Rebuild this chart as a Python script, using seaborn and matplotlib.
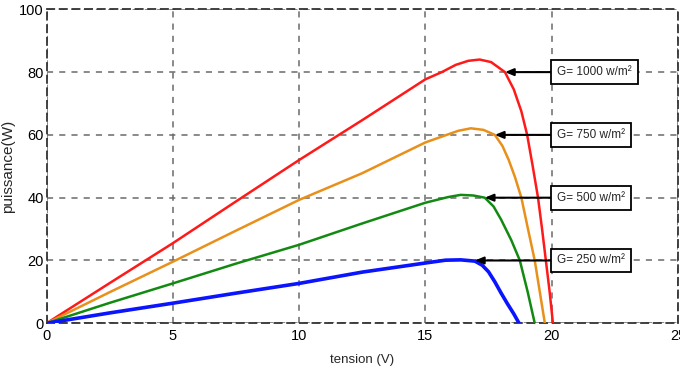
import matplotlib.pyplot as plt
import pandas as pd
import seaborn as sns

# Values (tension V, puissance W)
v_1000 = [0, 2.5, 5, 7.5, 10, 12.5, 15, 15.65, 16.2, 16.7, 17.15, 17.6, 18.15, 18.5, 18.8, 19.03, 19.25, 19.46, 19.62, 19.77, 19.92, 20.05]
p_1000 = [0, 12.8, 25.5, 38.8, 52, 64.7, 77.7, 80, 82.3, 83.6, 84, 83.2, 80, 74.5, 67.5, 60, 50, 40, 30, 20, 10, 0]

v_750 = [0, 2.5, 5, 7.5, 10, 12.5, 15, 15.84, 16.3, 16.8, 17.3, 17.75, 18.05, 18.3, 18.55, 18.8, 19.05, 19.33, 19.53, 19.73]
p_750 = [0, 9.9, 19.6, 29.5, 39.3, 47.8, 57.6, 60, 61.3, 62.1, 61.6, 60, 56.5, 52, 46.5, 40, 30.5, 20, 10, 0]

v_500 = [0, 2.5, 5, 7.5, 10, 12.5, 15, 15.9, 16.4, 16.9, 17.35, 17.7, 18.0, 18.4, 18.74, 19.05, 19.33]
p_500 = [0, 6.5, 12.7, 19, 25, 31.8, 38.4, 40.2, 40.9, 40.7, 40, 37.2, 33, 26.5, 20, 10, 0]

v_250 = [0, 2.5, 5, 7.5, 10, 12.5, 15, 15.8, 16.4, 16.96, 17.25, 17.5, 17.75, 18.0, 18.25, 18.5, 18.71]
p_250 = [0, 3.3, 6.4, 9.6, 12.7, 16.3, 19.2, 20.1, 20.2, 19.8, 18.5, 16.4, 13.2, 9.6, 6.2, 3, 0]

labels = ['G= 1000 w/m²', 'G= 750 w/m²', 'G= 500 w/m²', 'G= 250 w/m²']
colors = ['#ff1a1a', '#e8901a', '#128a12', '#0a14ff']
arrow_tips = [(18.15, 80), (17.75, 60), (17.35, 40), (16.96, 20)]
box_y = [80, 60, 40, 20]

curves = [(v_1000, p_1000), (v_750, p_750), (v_500, p_500), (v_250, p_250)]

sns.set_style('white')
plt.rcParams['font.family'] = ['Liberation Sans Narrow', 'Liberation Sans', 'DejaVu Sans']

fig = plt.figure(figsize=(6.8, 3.74), dpi=100)
ax = fig.add_axes([0.0684, 0.1356, 0.9286, 0.8395])

widths = [1.8, 1.8, 1.8, 2.6]
for (v, p), c, lw in zip(curves, colors, widths):
    sns.lineplot(x=v, y=p, color=c, linewidth=lw, sort=False, ax=ax, zorder=3)

# boxed labels with arrows pointing at each curve
for txt, tip, y in zip(labels, arrow_tips, box_y):
    ax.annotate(txt, xy=tip, xytext=(20.22, y), textcoords='data',
                ha='left', va='center', fontsize=8.5, zorder=5,
                bbox=dict(boxstyle='square,pad=0.5', fc='white', ec='black', lw=1.3),
                arrowprops=dict(arrowstyle='-|>,head_length=0.6,head_width=0.25',
                                color='black', lw=1.5, shrinkA=0, shrinkB=0))

ax.set_xlim(0, 25)
ax.set_ylim(0, 100)
ax.set_xticks([0, 5, 10, 15, 20, 25])
ax.set_yticks([0, 20, 40, 60, 80, 100])
ax.grid(True, color='#6a6a6a', linestyle=(0, (4, 4)), linewidth=1.1)
for s in ax.spines.values():
    s.set_linestyle((0, (4, 3)))
    s.set_color('#333333')
    s.set_linewidth(1.3)
ax.tick_params(direction='in', length=4, width=1.2, colors='black', labelsize=10.5, pad=2)
ax.tick_params(axis='x', pad=4)

ax.set_xlabel('tension (V)', fontsize=9.5, labelpad=8)
ax.set_ylabel('puissance(W)', fontsize=11)
ax.yaxis.set_label_coords(-0.05, 0.5)

fig.savefig('out.png', dpi=100)
